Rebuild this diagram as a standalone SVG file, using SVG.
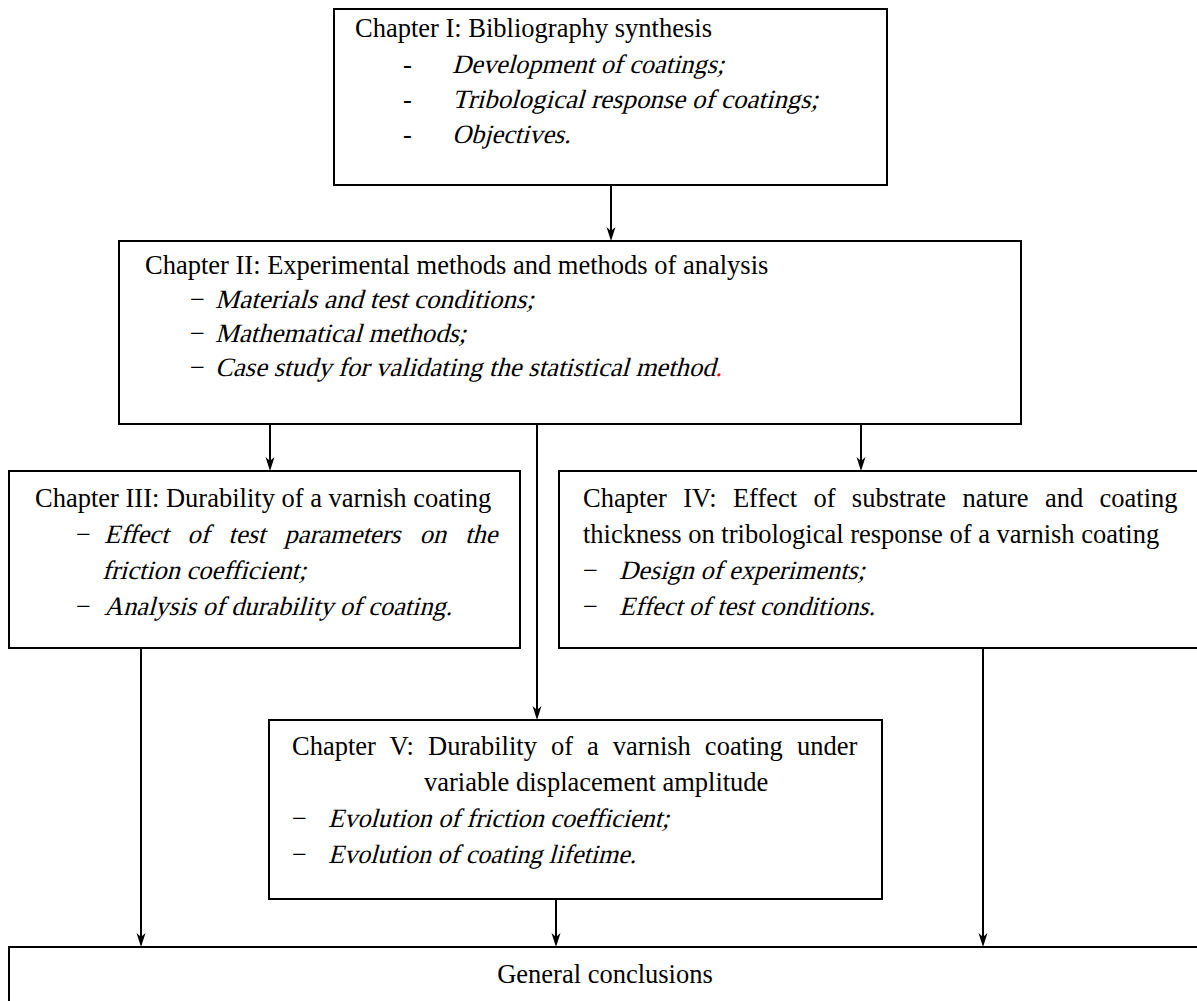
<svg xmlns="http://www.w3.org/2000/svg" width="1197" height="1001" viewBox="0 0 1197 1001">
<style>
text{font-family:"Liberation Serif","Times New Roman",serif;font-size:26.5px;fill:#000}
.i{font-style:normal}
.box{fill:#fff;stroke:#000;stroke-width:2}
.c line{stroke:#000;stroke-width:2;marker-end:url(#ah)}
</style>
<defs>
<marker id="ah" viewBox="0 -5 14 10" markerWidth="14" markerHeight="10" refX="10" refY="0" orient="auto" markerUnits="userSpaceOnUse">
<path d="M0,-4.5 L14,0 L0,4.5 L4,0 Z" fill="#000"/>
</marker>
</defs>
<rect width="1197" height="1001" fill="#fff"/>
<g id="ch1">
<rect class="box" x="334" y="9" width="553" height="176"/>
<text x="355" y="37">Chapter I: Bibliography synthesis</text>
<text x="403" y="73">-</text><text class="i" transform="translate(452 73) skewX(-15)" textLength="272" lengthAdjust="spacingAndGlyphs">Development of coatings;</text>
<text x="403" y="108">-</text><text class="i" transform="translate(452 108) skewX(-15)" textLength="366" lengthAdjust="spacingAndGlyphs">Tribological response of coatings;</text>
<text x="403" y="143">-</text><text class="i" transform="translate(452 143) skewX(-15)" textLength="118.5" lengthAdjust="spacingAndGlyphs">Objectives.</text>
</g>
<g id="ch2">
<rect class="box" x="119" y="241" width="902" height="183"/>
<text x="145" y="274">Chapter II: Experimental methods and methods of analysis</text>
<text x="190" y="308">−</text><text class="i" transform="translate(215 308) skewX(-15)" textLength="318.7" lengthAdjust="spacingAndGlyphs">Materials and test conditions;</text>
<text x="190" y="342">−</text><text class="i" transform="translate(215 342) skewX(-15)" textLength="251" lengthAdjust="spacingAndGlyphs">Mathematical methods;</text>
<text x="190" y="376">−</text><text class="i" transform="translate(215 376) skewX(-15)" textLength="507" lengthAdjust="spacingAndGlyphs">Case study for validating the statistical method<tspan fill="#ff0000">.</tspan></text>
</g>
<g id="ch3">
<rect class="box" x="9" y="471" width="511" height="177"/>
<text x="35" y="507">Chapter III: Durability of a varnish coating</text>
<text x="76" y="543">−</text><text class="i" transform="translate(104 543) skewX(-15)" word-spacing="12.4">Effect of test parameters on the</text>
<text class="i" transform="translate(102 579) skewX(-15)" textLength="204" lengthAdjust="spacingAndGlyphs">friction coefficient;</text>
<text x="76" y="615">−</text><text class="i" transform="translate(104 615) skewX(-15)" textLength="348" lengthAdjust="spacingAndGlyphs">Analysis of durability of coating.</text>
</g>
<g id="ch4">
<rect class="box" x="559" y="471" width="700" height="177"/>
<text x="583" y="507" word-spacing="9.7">Chapter IV: Effect of substrate nature and coating</text>
<text x="583" y="543">thickness on tribological response of a varnish coating</text>
<text x="583" y="579">−</text><text class="i" transform="translate(619 579) skewX(-15)" textLength="245.8" lengthAdjust="spacingAndGlyphs">Design of experiments;</text>
<text x="583" y="615">−</text><text class="i" transform="translate(619 615) skewX(-15)" textLength="256" lengthAdjust="spacingAndGlyphs">Effect of test conditions.</text>
</g>
<g id="ch5">
<rect class="box" x="269" y="720" width="613" height="179"/>
<text x="292" y="755" word-spacing="7.4">Chapter V: Durability of a varnish coating under</text>
<text x="424" y="791">variable displacement amplitude</text>
<text x="292" y="827">−</text><text class="i" transform="translate(328 827) skewX(-15)" textLength="341" lengthAdjust="spacingAndGlyphs">Evolution of friction coefficient;</text>
<text x="292" y="863">−</text><text class="i" transform="translate(328 863) skewX(-15)" textLength="308" lengthAdjust="spacingAndGlyphs">Evolution of coating lifetime.</text>
</g>
<g id="concl">
<rect class="box" x="9" y="947" width="1200" height="100"/>
<text x="605" y="983" text-anchor="middle">General conclusions</text>
</g>
<g id="connectors" class="c">
<line x1="611" y1="185" x2="611" y2="237"/>
<line x1="270" y1="424" x2="270" y2="467"/>
<line x1="537" y1="424" x2="537" y2="716"/>
<line x1="861" y1="424" x2="861" y2="467"/>
<line x1="141" y1="648" x2="141" y2="943"/>
<line x1="556" y1="899" x2="556" y2="943"/>
<line x1="983" y1="648" x2="983" y2="943"/>
</g>
</svg>
